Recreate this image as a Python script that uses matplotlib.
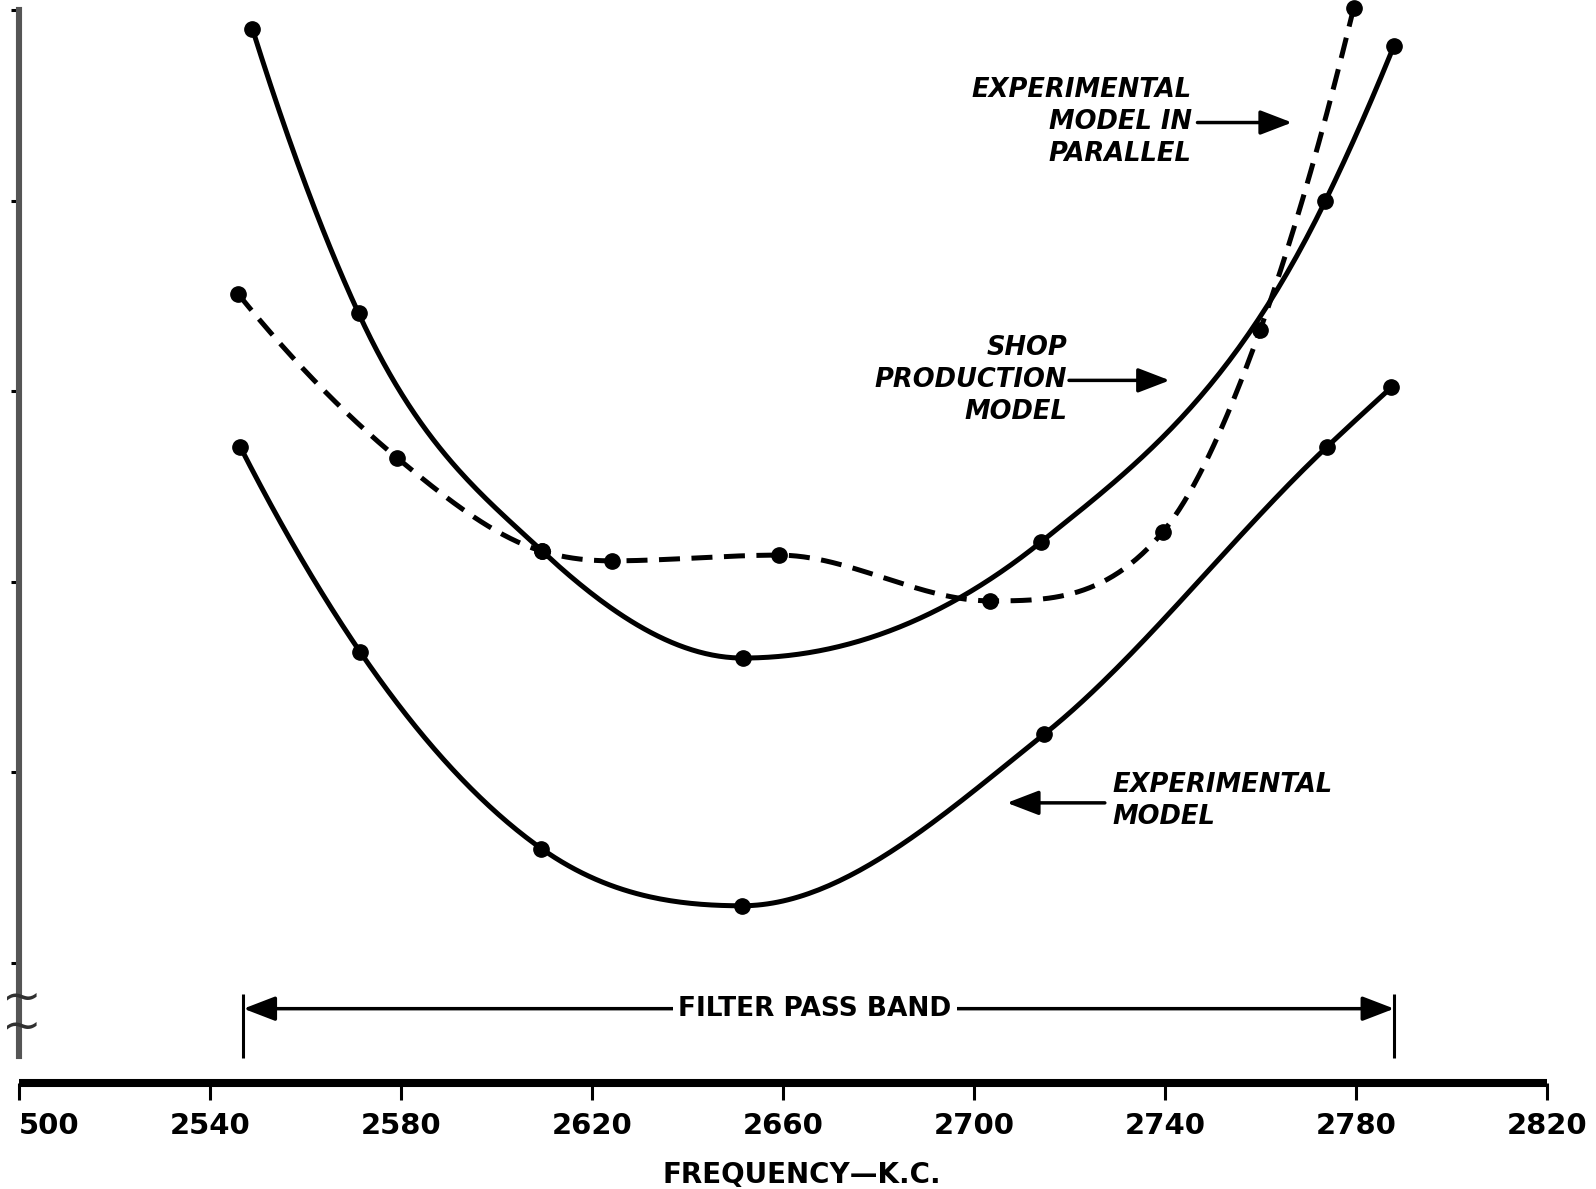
import numpy as np
import matplotlib
matplotlib.use('Agg')
import matplotlib.pyplot as plt

# values (x in kc, y in tick units, ticks at 1..6)
shop_f = [2548.9, 2571.1, 2609.6, 2651.6, 2714.1, 2773.6, 2787.9]
shop_y = [5.90, 4.41, 3.16, 2.60, 3.21, 5.00, 5.81]

exp_f = [2546.3, 2571.5, 2609.4, 2651.4, 2714.7, 2774.0, 2787.4]
exp_y = [3.71, 2.63, 1.60, 1.30, 2.20, 3.71, 4.02]

par_f = [2545.9, 2579.2, 2609.6, 2624.1, 2659.1, 2703.4, 2739.5, 2759.9, 2779.5]
par_y = [4.51, 3.65, 3.16, 3.11, 3.14, 2.90, 3.26, 4.32, 6.01]

xticks = [2500, 2540, 2580, 2620, 2660, 2700, 2740, 2780, 2820]
xtick_labels = ['500', '2540', '2580', '2620', '2660', '2700', '2740', '2780', '2820']
yticks = [1, 2, 3, 4, 5, 6]
passband = [2547, 2788]


def end_slope(h0, h1, d0, d1):
    m = ((2 * h0 + h1) * d0 - h0 * d1) / (h0 + h1)
    if np.sign(m) != np.sign(d0):
        return 0.0
    if np.sign(d0) != np.sign(d1) and abs(m) > 3 * abs(d0):
        return 3 * d0
    return m


def smooth(x, y, n=60):
    # cubic hermite through the points, flat at the turning points,
    # only for drawing the curve
    x = np.asarray(x, float)
    y = np.asarray(y, float)
    h = np.diff(x)
    d = np.diff(y) / h
    m = np.zeros(len(x))
    for k in range(1, len(x) - 1):
        if d[k - 1] * d[k] > 0:
            m[k] = (h[k] * d[k - 1] + h[k - 1] * d[k]) / (h[k - 1] + h[k])
    m[0] = end_slope(h[0], h[1], d[0], d[1])
    m[-1] = end_slope(h[-1], h[-2], d[-1], d[-2])
    # keep each piece monotone
    for k in range(len(h)):
        a, b = m[k] / d[k], m[k + 1] / d[k]
        s = a * a + b * b
        if s > 9:
            tau = 3 / np.sqrt(s)
            m[k] = tau * a * d[k]
            m[k + 1] = tau * b * d[k]
    t = np.linspace(0, 1, n)
    h00 = 2 * t**3 - 3 * t**2 + 1
    h10 = t**3 - 2 * t**2 + t
    h01 = -2 * t**3 + 3 * t**2
    h11 = t**3 - t**2
    xs, ys = [], []
    for i in range(len(h)):
        xs.append(x[i] + t * h[i])
        ys.append(h00 * y[i] + h10 * h[i] * m[i] + h01 * y[i + 1] + h11 * h[i] * m[i + 1])
    return np.concatenate(xs), np.concatenate(ys)


fig = plt.figure(figsize=(15.96, 11.89), dpi=100)
ax = fig.add_axes([19 / 1596, 106 / 1189, 1528 / 1596, 1083 / 1189])
ax.set_xlim(2500, 2820)
ax.set_ylim(0.37, 6.053)

lw = 3.6
for f, y in [(shop_f, shop_y), (exp_f, exp_y)]:
    xs, ys = smooth(f, y)
    ax.plot(xs, ys, color='black', lw=lw, solid_capstyle='round', clip_on=False)
    ax.plot(f, y, 'o', color='black', ms=11, clip_on=False)

xs, ys = smooth(par_f, par_y)
ax.plot(xs, ys, color='black', lw=lw, dashes=(4.2, 2.3), clip_on=False)
ax.plot(par_f, par_y, 'o', color='black', ms=11, clip_on=False)

# spines and ticks
for s in ['top', 'right']:
    ax.spines[s].set_visible(False)
ax.spines['left'].set_bounds(0.512, 6.0)
ax.spines['left'].set_linewidth(4.4)
ax.spines['left'].set_color('#555555')
ax.spines['bottom'].set_linewidth(5.8)
ax.spines['bottom'].set_capstyle('butt')

ax.set_xticks(xticks)
ax.set_xticklabels(xtick_labels, fontsize=21, fontweight='bold')
ax.get_xticklabels()[0].set_horizontalalignment('left')
ax.set_yticks(yticks)
ax.set_yticklabels([])
ax.tick_params(axis='x', direction='out', length=12, width=2.2, pad=9)
ax.tick_params(axis='y', direction='out', length=6, width=2.2)

ax.set_xlabel('FREQUENCY—K.C.', fontsize=20, fontweight='bold')
ax.xaxis.set_label_coords(0.512, -0.072)

# axis break marks
ax.text(2500.5, 0.74, '~\n~', fontsize=34, ha='center', va='center',
        linespacing=0.55, color='#303030')

# filter pass band
arrow = dict(arrowstyle='-|>,head_length=0.65,head_width=0.25', lw=2.5,
             color='black', mutation_scale=30, shrinkA=0, shrinkB=0)
mid = 2666.7
ax.vlines(passband, 0.50, 0.837, color='black', lw=2.2)
ax.annotate('', xy=(passband[0], 0.76), xytext=(mid, 0.76), arrowprops=arrow)
ax.annotate('', xy=(passband[1], 0.76), xytext=(mid, 0.76), arrowprops=arrow)
ax.text(mid, 0.76, 'FILTER PASS BAND', fontsize=19, fontweight='bold',
        ha='center', va='center',
        bbox=dict(facecolor='white', edgecolor='none', pad=4))

# curve labels
lab = dict(fontsize=18.5, fontweight='bold', fontstyle='italic', linespacing=1.3)
ax.text(2745.6, 5.415, 'EXPERIMENTAL\nMODEL IN\nPARALLEL', ha='right',
        va='center', multialignment='right', **lab)
ax.annotate('', xy=(2766.6, 5.41), xytext=(2746.8, 5.41), arrowprops=arrow)

ax.text(2719.5, 4.06, 'SHOP\nPRODUCTION\nMODEL', ha='right', va='center',
        multialignment='right', **lab)
ax.annotate('', xy=(2741.0, 4.057), xytext=(2719.9, 4.057), arrowprops=arrow)

ax.text(2728.9, 1.85, 'EXPERIMENTAL\nMODEL', ha='left', va='center',
        multialignment='left', **lab)
ax.annotate('', xy=(2706.9, 1.84), xytext=(2727.4, 1.84), arrowprops=arrow)

fig.savefig('out.png', dpi=100)
